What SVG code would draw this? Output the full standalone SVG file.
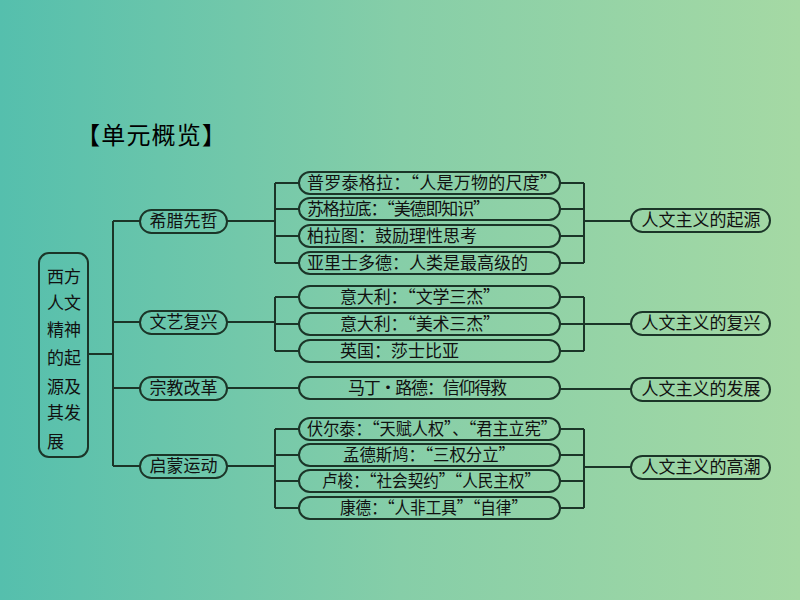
<svg xmlns="http://www.w3.org/2000/svg" width="800" height="600" viewBox="0 0 800 600">
<defs>
<linearGradient id="bg" x1="0" y1="0" x2="1" y2="0">
<stop offset="0" stop-color="#55bfad"/>
<stop offset="0.5" stop-color="#86cea8"/>
<stop offset="1" stop-color="#a5d9a4"/>
</linearGradient>
<style>
.box{fill:none;stroke:#1b3528;stroke-width:2}
.ln{fill:none;stroke:#1b3528;stroke-width:2}
text{font-family:"Noto Sans CJK SC","Noto Sans CJK TC",sans-serif;font-size:17px;fill:#111}
.c{text-anchor:middle}
.title{font-size:24px;fill:#000}
</style>
</defs>
<rect x="0" y="0" width="800" height="600" fill="url(#bg)"/>
<text class="title" x="76" y="144" textLength="150">【单元概览】</text>

<g id="connectors">
<path class="ln" d="M88 354H113M113 221V466M113 221H140M113 322H140M113 388H140M113 466H140"/>
<path class="ln" d="M227 221H275M275 183V263M275 183H299M275 209H299M275 236H299M275 263H299"/>
<path class="ln" d="M560 183H584M560 209H584M560 236H584M560 263H584M584 183V263M584 221H631"/>
<path class="ln" d="M227 322H275M275 297V351M275 297H299M275 324H299M275 351H299"/>
<path class="ln" d="M560 297H584M560 324H584M560 351H584M584 297V351M584 324H631"/>
<path class="ln" d="M227 388H299M560 389H631"/>
<path class="ln" d="M227 466H275M275 429V508M275 429H299M275 455H299M275 481H299M275 508H299"/>
<path class="ln" d="M560 429H584M560 455H584M560 481H584M560 508H584M584 429V508M584 467H631"/>
</g>

<g id="root">
<rect class="box" x="39" y="253" width="49" height="204" rx="10"/>
<text class="c" x="64" y="283">西方</text>
<text class="c" x="64" y="309">人文</text>
<text class="c" x="64" y="336">精神</text>
<text class="c" x="64" y="364">的起</text>
<text class="c" x="64" y="393">源及</text>
<text class="c" x="64" y="419">其发</text>
<text x="47" y="448">展</text>
</g>

<g id="n-greece"><rect class="box" x="140" y="210" width="87" height="23" rx="11.5"/><text class="c" x="183.5" y="227">希腊先哲</text></g>
<g id="n-renaissance"><rect class="box" x="140" y="311" width="87" height="23" rx="11.5"/><text class="c" x="183.5" y="328">文艺复兴</text></g>
<g id="n-reformation"><rect class="box" x="140" y="377" width="87" height="23" rx="11.5"/><text class="c" x="183.5" y="394">宗教改革</text></g>
<g id="n-enlightenment"><rect class="box" x="140" y="455" width="87" height="23" rx="11.5"/><text class="c" x="183.5" y="472">启蒙运动</text></g>

<g id="l1"><rect class="box" x="299" y="172" width="261" height="22" rx="11"/><text x="307" y="189" textLength="250">普罗泰格拉：“人是万物的尺度”</text></g>
<g id="l2"><rect class="box" x="299" y="198" width="261" height="22" rx="11"/><text x="307" y="215" textLength="183">苏格拉底：“美德即知识”</text></g>
<g id="l3"><rect class="box" x="299" y="225" width="261" height="22" rx="11"/><text x="307" y="242">柏拉图：鼓励理性思考</text></g>
<g id="l4"><rect class="box" x="299" y="252" width="261" height="22" rx="11"/><text x="307" y="269">亚里士多德：人类是最高级的</text></g>

<g id="l5"><rect class="box" x="299" y="286" width="261" height="22" rx="11"/><text x="340" y="303" textLength="160">意大利：“文学三杰”</text></g>
<g id="l6"><rect class="box" x="299" y="313" width="261" height="22" rx="11"/><text x="340" y="330" textLength="160">意大利：“美术三杰”</text></g>
<g id="l7"><rect class="box" x="299" y="340" width="261" height="22" rx="11"/><text x="340" y="357">英国：莎士比亚</text></g>

<g id="l8"><rect class="box" x="299" y="377" width="261" height="22" rx="11"/><text x="348" y="394" textLength="159">马丁·路德：信仰得救</text></g>

<g id="l9"><rect class="box" x="299" y="418" width="261" height="22" rx="11"/><text x="307" y="435" textLength="250" lengthAdjust="spacingAndGlyphs">伏尔泰：“天赋人权”、“君主立宪”</text></g>
<g id="l10"><rect class="box" x="299" y="444" width="261" height="22" rx="11"/><text x="343" y="461" textLength="172" lengthAdjust="spacingAndGlyphs">孟德斯鸠：“三权分立”</text></g>
<g id="l11"><rect class="box" x="299" y="470" width="261" height="22" rx="11"/><text x="322" y="487" textLength="218" lengthAdjust="spacingAndGlyphs">卢梭：“社会契约”“人民主权”</text></g>
<g id="l12"><rect class="box" x="299" y="497" width="261" height="22" rx="11"/><text x="340" y="514" textLength="187" lengthAdjust="spacingAndGlyphs">康德：“人非工具”“自律”</text></g>

<g id="r1"><rect class="box" x="631" y="209" width="139" height="23" rx="11.5"/><text class="c" x="701" y="226">人文主义的起源</text></g>
<g id="r2"><rect class="box" x="631" y="312" width="139" height="23" rx="11.5"/><text class="c" x="701" y="329">人文主义的复兴</text></g>
<g id="r3"><rect class="box" x="631" y="378" width="139" height="23" rx="11.5"/><text class="c" x="701" y="395">人文主义的发展</text></g>
<g id="r4"><rect class="box" x="631" y="456" width="139" height="23" rx="11.5"/><text class="c" x="701" y="473">人文主义的高潮</text></g>
</svg>
